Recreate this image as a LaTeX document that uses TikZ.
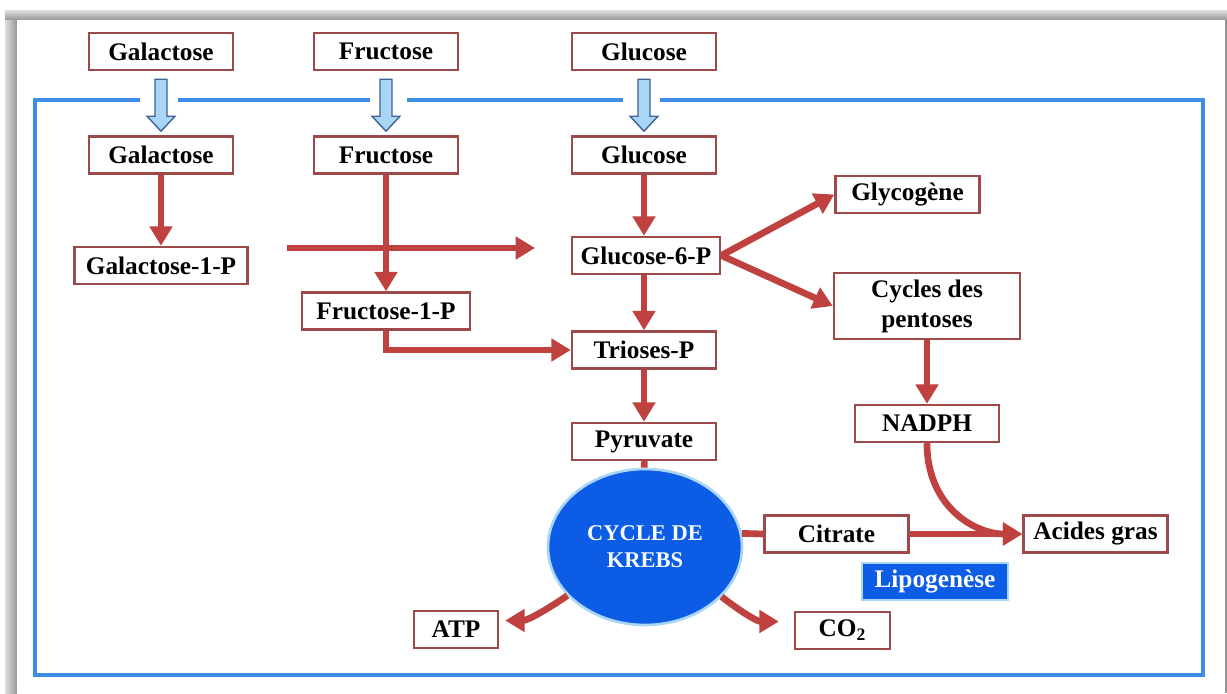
\documentclass[tikz,border=0pt]{standalone}
\usepackage{fontspec}
\setmainfont{Liberation Serif}
\usepackage{tikz}
\usepackage{xcolor}
\usetikzlibrary{arrows.meta,shapes,calc}
\definecolor{cadre}{RGB}{62,142,232}
\definecolor{bord}{RGB}{158,74,74}
\definecolor{fleche}{RGB}{192,66,64}
\definecolor{krebs}{RGB}{12,92,230}
\definecolor{ciel}{RGB}{168,214,244}
\definecolor{contour}{RGB}{60,100,150}
\definecolor{ombre}{RGB}{150,150,150}
\tikzset{
boite/.style={draw=bord,line width=1.4pt,fill=white,minimum width=2.88cm,minimum height=0.74cm,inner sep=2pt,align=center,font=\fontsize{14.4}{17}\selectfont\bfseries},
fl/.style={draw=fleche,line width=3.8pt,-{Triangle[length=11pt,width=12.5pt]}},
trait/.style={draw=fleche,line width=3.8pt},
entree/.style={fill=ciel,draw=contour,line width=0.8pt}
}
\begin{document}
\begin{tikzpicture}[x=0.02cm,y=-0.02cm]
\useasboundingbox(0,0)rectangle(1227,693);
% ombre du cadre
\fill[ombre](5,10)rectangle(1227,693);
\shade[top color=ombre!30,bottom color=ombre](5,10)rectangle(1227,20);
\shade[left color=ombre!30,right color=ombre](5,20)rectangle(17,693);
\fill[white](17,20)rectangle(1225,693);
% cellule
\draw[cadre,line width=2.8pt](140,100)-|(35,675)-|(1203,100)--(660,100);
\draw[cadre,line width=2.8pt](178,100)--(370,100)(407,100)--(623,100);
% boites
\node[boite](gal0)at(161,51.5){Galactose};
\node[boite](fru0)at(386,51.5){Fructose};
\node[boite](glu0)at(644,51.5){Glucose};
\node[boite](gal)at(161,155){Galactose};
\node[boite](fru)at(386,155){Fructose};
\node[boite](glu)at(644,155){Glucose};
\node[boite,minimum width=3.46cm](gal1p)at(161,265.5){Galactose-1-P};
\node[boite,minimum width=3.36cm](fru1p)at(386,311){Fructose-1-P};
\node[boite,minimum width=2.96cm](g6p)at(646,255.5){Glucose-6-P};
\node[boite](tri)at(644,350){Trioses-P};
\node[boite](pyr)at(644,441.5){Pyruvate};
\node[boite](glyc)at(907.5,194.5){Glycogène};
\node[boite,minimum width=3.72cm,minimum height=1.32cm](pent)at(927,306){Cycles des\\pentoses};
\node[boite](nadph)at(927,423.5){NADPH};
\node[ellipse,fill=krebs,draw=ciel,line width=1.5pt,minimum width=3.88cm,minimum height=3.12cm,inner sep=0pt,align=center,text=white!90!ciel,font=\fontsize{12.8}{15.3}\selectfont\bfseries](krebs)at(645,547){CYCLE DE\\KREBS};
\node[boite](cit)at(836.5,534){Citrate};
\node[boite](acid)at(1095.5,534){Acides gras};
\node[boite,fill=krebs,draw=ciel,text=white,minimum width=2.92cm](lipo)at(935,581.5){Lipogenèse};
\node[boite,minimum width=1.9cm](co2)at(842.5,630.5){CO\textsubscript{2}};
\node[boite,minimum width=1.68cm](atp)at(456,629.5){ATP};
% entrees dans la cellule
\foreach \n in {gal,fru,glu}
\draw[entree]($(\n0.south)+(-6,8)$)--++(12,0)--++(0,37)--++(8,0)--++(-14,15)--++(-14,-15)--++(8,0)--cycle;
% voies
\coordinate(gd)at(287,248);
\coordinate(ga)at(535,248);
\draw[fl](gal)--(gal1p);
\draw[fl](gd)--(ga);
\draw[fl](fru)--(fru1p);
\draw[fl](fru1p.south)|-(tri.west);
\draw[fl](glu)--(glu|-g6p.north);
\draw[fl](g6p.south-|tri)--(tri);
\draw[fl](tri)--(pyr);
\draw[trait](pyr)--(krebs);
\draw[fl](g6p.east)--(glyc.west);
\draw[fl](g6p.east)--(pent.west);
\draw[fl](pent)--(nadph);
\draw[fl](nadph.south)..controls+(0,63)and+(-48,0)..(acid.west);
\draw[trait](krebs.8)--(cit.west);
\draw[fl](cit)--(acid);
\draw[fl](krebs.-148)..controls+(-20,14)and+(22,0)..($(atp.east)+(6,-9)$);
\draw[fl](krebs.-33)..controls+(18,14)and+(-22,0)..($(co2.west)+(-15,-9)$);
\end{tikzpicture}
\end{document}
